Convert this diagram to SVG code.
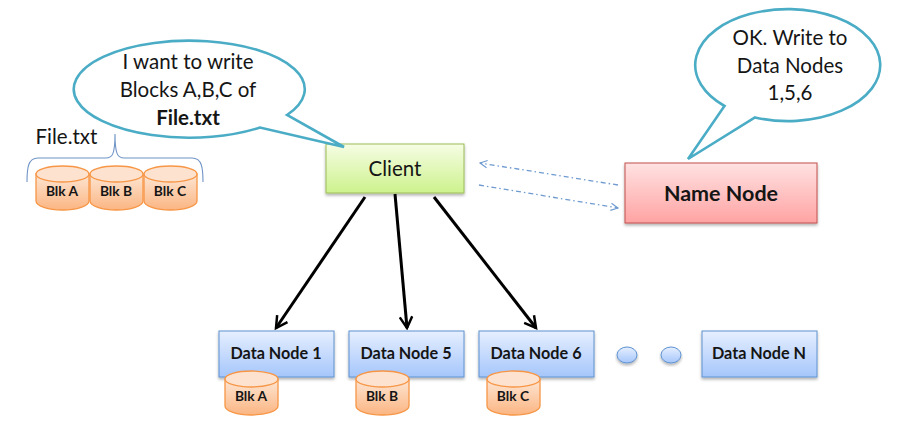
<svg xmlns="http://www.w3.org/2000/svg" width="910" height="423" viewBox="0 0 910 423">
<style>
text{font-family:"Lato","Open Sans","Liberation Sans",sans-serif;fill:#151515;text-anchor:middle}
.call{font-size:20.500px}
.b{font-weight:700}
.dn{font-size:16.200px;font-weight:700}
.blk{font-size:13.800px;font-weight:700}
.bubble{fill:#fff;stroke:#4bacc6;stroke-width:2.6;stroke-linejoin:miter}
.box{filter:url(#sh)}
.cyl{fill:url(#or);stroke:#f79646;stroke-width:1.3}
.top{fill:#fde3cf;stroke:#f79646;stroke-width:1.3}
.heavy{fill:none;stroke:#000;stroke-width:3;marker-end:url(#ah)}
.dash{fill:none;stroke:#6f9bd1;stroke-width:1.300;stroke-dasharray:5 3 1.5 3;marker-end:url(#dh)}
</style>
<defs>
<linearGradient id="gr" x1="0" y1="0" x2="0" y2="1"><stop offset="0" stop-color="#f6fde4"/><stop offset="1" stop-color="#cdf28d"/></linearGradient>
<linearGradient id="rd" x1="0" y1="0" x2="0" y2="1"><stop offset="0" stop-color="#ffe2e2"/><stop offset="1" stop-color="#ffa3a3"/></linearGradient>
<linearGradient id="bl" x1="0" y1="0" x2="0" y2="1"><stop offset="0" stop-color="#e6efff"/><stop offset="1" stop-color="#a5c6fb"/></linearGradient>
<linearGradient id="or" x1="0" y1="0" x2="0" y2="1"><stop offset="0" stop-color="#fde6d4"/><stop offset="1" stop-color="#fbb582"/></linearGradient>
<filter id="sh" x="-10%" y="-10%" width="120%" height="130%"><feDropShadow dx="0" dy="2" stdDeviation="1.5" flood-color="#000" flood-opacity="0.3"/></filter>
<marker id="ah" viewBox="0 0 12 12" refX="10" refY="6" markerWidth="15" markerHeight="15" markerUnits="userSpaceOnUse" orient="auto"><path d="M1 1L10 6L1 11" fill="none" stroke="#000" stroke-width="2"/></marker>
<marker id="dh" viewBox="0 0 10 10" refX="9" refY="5" markerWidth="9" markerHeight="9" markerUnits="userSpaceOnUse" orient="auto"><path d="M1 1L9 5L1 9" fill="none" stroke="#6f9bd1" stroke-width="1.2"/></marker>
<g id="cylinder"><path class="cyl" d="M0 9V36C0 41 12 45 26.500 45S53 41 53 36V9Z"/><ellipse class="top" cx="26.500" cy="9" rx="26.500" ry="8"/></g>
</defs>
<g id="connectors">
<path class="heavy" d="M365 197L276 328"/>
<path class="heavy" d="M395 194L407 328"/>
<path class="heavy" d="M434 197L536 328"/>
<path class="dash" d="M618 185L480 163"/>
<path class="dash" d="M479 185L618 208"/>
</g>
<g id="file-brace"><path d="M27 182C27 168 28 158 38 158H106C112 158 115 155 115 134C115 155 118 158 124 158H192C202 158 203 168 203 182" fill="none" stroke="#6f94c6" stroke-width="1.1"/><text x="66.500" y="144" class="call">File.txt</text></g>
<g id="file-blk-a"><use href="#cylinder" x="36" y="165"/><text x="62" y="196" class="blk">Blk A</text></g>
<g id="file-blk-b"><use href="#cylinder" x="90" y="165"/><text x="116" y="196" class="blk">Blk B</text></g>
<g id="file-blk-c"><use href="#cylinder" x="144" y="165"/><text x="170" y="196" class="blk">Blk C</text></g>
<g id="client"><rect class="box" x="326" y="144" width="138" height="49" fill="url(#gr)" stroke="#9bbb59" stroke-width="1"/><text x="395" y="176" class="call">Client</text></g>
<g id="name-node"><rect class="box" x="625" y="163" width="192" height="60" fill="url(#rd)" stroke="#c0504d" stroke-width="1"/><text x="721" y="201" style="font-size:21.500px" class="b">Name Node</text></g>
<g id="client-bubble"><path class="bubble" d="M287 115A115.500 48.500 0 1 0 260 127.500L344 147Z"/>
<text x="188" y="69" class="call">I want to write</text><text x="188" y="97" class="call">Blocks A,B,C of</text><text x="188" y="125" class="call b">File.txt</text></g>
<g id="namenode-bubble"><path class="bubble" d="M724.500 106A92.500 56 0 1 1 755 117.500L688 159Z"/>
<text x="790" y="45" class="call">OK. Write to</text><text x="790" y="73" class="call">Data Nodes</text><text x="790" y="100" class="call">1,5,6</text></g>
<g id="data-node-1"><rect class="box" x="219" y="331" width="115" height="46" fill="url(#bl)" stroke="#5f92cf"/><text x="276" y="359" class="dn">Data Node 1</text></g>
<g id="data-node-5"><rect class="box" x="349" y="331" width="115" height="46" fill="url(#bl)" stroke="#5f92cf"/><text x="406" y="359" class="dn">Data Node 5</text></g>
<g id="data-node-6"><rect class="box" x="479" y="331" width="115" height="46" fill="url(#bl)" stroke="#5f92cf"/><text x="536" y="359" class="dn">Data Node 6</text></g>
<g id="data-node-n"><rect class="box" x="702" y="331" width="115" height="46" fill="url(#bl)" stroke="#5f92cf"/><text x="759" y="359" class="dn">Data Node N</text></g>
<g id="dot-1"><ellipse class="box" cx="627" cy="355" rx="10" ry="8" fill="url(#bl)" stroke="#5f92cf"/></g>
<g id="dot-2"><ellipse class="box" cx="671" cy="355" rx="10" ry="8" fill="url(#bl)" stroke="#5f92cf"/></g>
<g id="blk-a"><use href="#cylinder" x="225" y="370"/><text x="251" y="401" class="blk">Blk A</text></g>
<g id="blk-b"><use href="#cylinder" x="356" y="370"/><text x="382" y="401" class="blk">Blk B</text></g>
<g id="blk-c"><use href="#cylinder" x="487" y="370"/><text x="513" y="401" class="blk">Blk C</text></g>
</svg>
